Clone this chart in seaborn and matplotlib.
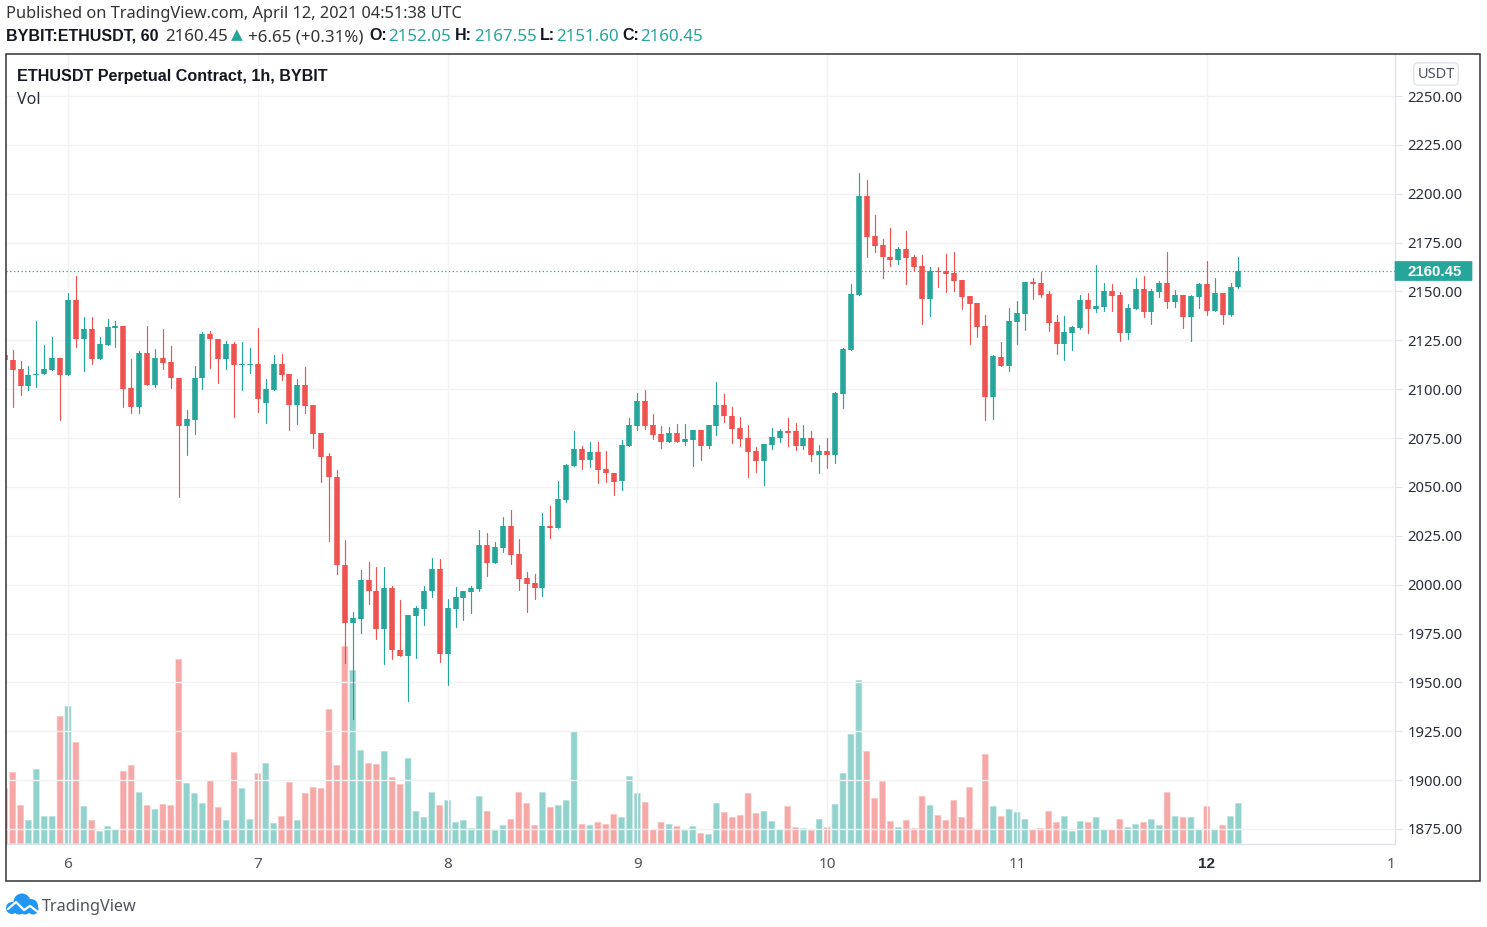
import numpy as np
import pandas as pd
import seaborn as sns
import matplotlib.pyplot as plt
from matplotlib.patches import Rectangle, FancyBboxPatch, Circle
from matplotlib.transforms import blended_transform_factory, ScaledTranslation

# hourly candles, April 5 16:00 -> April 12 04:00
opens = [2117.7,2115.0,2110.2,2101.8,2107.1,2107.6,2109.8,2116.1,2107.1,2145.8,
         2125.5,2130.6,2115.3,2122.8,2131.3,2132.3,2100.5,2091.1,2118.4,2102.3,
         2116.1,2113.9,2105.9,2081.4,2084.4,2105.6,2128.1,2125.9,2115.3,2123.1,
         2112.4,2112.4,2112.9,2093.1,2099.6,2112.9,2107.6,2092.1,2102.0,2091.9,
         2077.4,2066.0,2055.1,2010.1,1980.4,1982.5,2002.4,1997.0,1977.2,1998.2,
         1966.8,1963.7,1984.2,1987.4,1996.6,2007.9,1964.7,1987.4,1993.2,1996.0,
         1997.7,2020.3,2011.1,2018.6,2029.9,2015.9,2003.5,2000.9,1998.2,2029.9,
         2028.9,2043.3,2060.7,2069.3,2064.0,2067.7,2059.0,2057.3,2053.1,2071.0,
         2081.3,2094.1,2081.7,2076.9,2073.1,2077.4,2073.1,2074.2,2078.9,2070.9,
         2081.3,2091.9,2086.4,2080.1,2075.2,2068.2,2063.4,2071.4,2075.2,2078.4,
         2078.4,2070.9,2075.2,2066.1,2068.2,2066.1,2097.4,2120.0,2148.0,2198.8,
         2178.2,2173.7,2167.8,2165.9,2171.7,2167.4,2163.0,2145.9,2160.6,2160.4,
         2159.2,2156.0,2147.5,2144.2,2132.3,2095.8,2116.6,2111.8,2134.5,2138.4,
         2155.0,2154.5,2148.5,2134.5,2123.3,2128.5,2131.3,2145.8,2141.0,2142.0,
         2150.2,2148.0,2128.7,2141.0,2151.2,2139.3,2149.7,2154.5,2144.7,2148.0,
         2136.7,2147.0,2153.9,2140.0,2149.0,2137.8,2152.05]
closes = [2115.0,2109.8,2101.8,2107.4,2108.0,2110.2,2116.1,2107.1,2145.8,2125.5,
          2130.6,2115.3,2123.1,2131.7,2132.3,2100.1,2091.1,2118.4,2102.3,2116.1,
          2113.6,2105.6,2081.4,2084.8,2105.9,2128.1,2125.5,2115.3,2123.1,2112.6,
          2112.9,2112.9,2094.8,2099.9,2112.9,2107.3,2092.1,2102.0,2091.6,2076.9,
          2065.5,2054.9,2010.1,1980.4,1983.0,2002.4,1996.6,1977.2,1998.2,1966.5,
          1963.7,1984.5,1987.9,1997.0,2007.9,1964.7,1987.8,1993.7,1996.5,1998.2,
          2020.3,2011.1,2019.1,2029.9,2015.4,2002.9,2000.4,1998.2,2029.9,2028.9,
          2043.9,2061.3,2069.3,2064.0,2067.7,2058.5,2057.0,2052.6,2071.5,2081.7,
          2094.1,2081.3,2076.4,2073.1,2077.4,2073.1,2074.7,2078.9,2070.9,2081.7,
          2091.9,2086.1,2079.6,2074.7,2067.7,2063.4,2071.9,2075.7,2078.4,2077.7,
          2070.9,2075.2,2066.1,2068.2,2066.1,2097.9,2120.5,2148.5,2198.8,2177.8,
          2173.4,2167.4,2165.9,2171.7,2166.9,2162.7,2145.9,2160.4,2160.1,2158.7,
          2155.5,2147.0,2143.7,2131.8,2095.8,2116.8,2111.8,2135.0,2138.8,2155.0,
          2153.9,2148.0,2134.0,2123.3,2129.1,2131.8,2145.8,2141.0,2142.5,2150.2,
          2147.5,2128.7,2141.5,2151.2,2139.3,2150.2,2154.5,2144.7,2148.0,2136.7,
          2147.5,2153.9,2140.0,2149.0,2137.8,2152.2,2160.45]
highs = [2118.0,2120.1,2114.6,2111.9,2135.1,2122.6,2126.9,2116.1,2149.0,2157.9,
         2137.1,2136.8,2126.5,2136.1,2135.1,2132.3,2115.3,2119.4,2132.3,2120.4,
         2130.6,2122.1,2105.9,2089.4,2111.9,2129.1,2129.8,2125.9,2124.8,2124.2,
         2124.2,2120.9,2131.1,2105.4,2117.3,2117.8,2107.6,2105.4,2111.2,2091.9,
         2077.4,2067.2,2058.7,2022.9,1986.2,2007.5,2011.6,2008.9,2008.9,1999.4,
         1992.2,1984.5,1989.1,1999.4,2013.7,2013.2,1992.7,1998.7,1997.0,1999.4,
         2027.8,2026.3,2021.9,2034.8,2038.1,2023.4,2006.7,2005.2,2036.4,2040.3,
         2053.1,2061.8,2078.5,2070.8,2073.0,2073.0,2068.2,2057.3,2074.0,2085.5,
         2097.9,2099.6,2087.1,2081.2,2080.6,2082.2,2082.2,2078.9,2078.9,2081.7,
         2103.7,2097.5,2090.7,2085.9,2081.5,2070.2,2071.9,2080.1,2079.5,2085.4,
         2082.5,2081.7,2078.4,2071.4,2075.2,2098.4,2121.1,2154.0,2210.4,2206.8,
         2188.9,2177.1,2182.4,2172.7,2180.9,2168.5,2168.5,2162.3,2162.3,2169.1,
         2170.0,2156.0,2147.5,2144.2,2137.8,2117.3,2124.1,2141.5,2145.3,2155.0,
         2156.7,2159.9,2150.2,2137.8,2137.2,2132.3,2148.0,2149.0,2163.5,2154.5,
         2153.8,2149.7,2143.5,2156.7,2157.7,2151.2,2155.5,2170.0,2150.7,2148.0,
         2148.0,2154.5,2165.7,2156.7,2149.0,2154.5,2167.55]
lows = [2114.6,2091.1,2096.9,2099.6,2101.3,2107.6,2109.8,2084.3,2107.1,2121.8,
        2109.3,2112.9,2115.3,2122.8,2121.8,2091.1,2087.7,2087.7,2102.3,2101.3,
        2110.5,2100.6,2045.0,2066.5,2077.1,2100.1,2110.9,2103.4,2110.3,2086.0,
        2099.6,2108.1,2088.2,2082.9,2099.6,2104.7,2079.1,2082.2,2087.7,2069.8,
        2052.5,2022.5,2005.3,1959.8,1931.3,1975.1,1990.2,1972.3,1959.3,1962.0,
        1963.7,1940.5,1962.7,1979.2,1993.9,1960.5,1948.5,1978.2,1982.0,1985.7,
        1996.6,2004.5,2011.1,2016.9,2010.6,1997.1,1986.2,1992.7,1994.4,2024.1,
        2028.9,2042.5,2060.7,2059.0,2060.1,2052.2,2052.6,2046.1,2048.3,2071.0,
        2079.1,2079.6,2074.7,2069.7,2073.1,2073.1,2071.4,2060.9,2063.9,2069.9,
        2076.7,2083.4,2072.6,2070.9,2054.9,2057.5,2051.1,2069.4,2073.1,2070.9,
        2068.9,2069.4,2063.4,2056.9,2059.7,2062.4,2090.4,2120.0,2148.0,2167.4,
        2170.2,2157.0,2163.2,2164.2,2154.0,2160.6,2133.5,2137.6,2152.4,2149.7,
        2150.2,2141.0,2123.3,2126.5,2084.4,2084.9,2111.8,2109.3,2123.3,2130.2,
        2146.3,2147.0,2129.7,2117.8,2115.1,2120.0,2130.8,2128.7,2139.5,2140.0,
        2140.0,2124.8,2125.8,2141.0,2137.1,2133.5,2147.0,2141.5,2142.2,2131.3,
        2124.8,2141.5,2137.8,2140.0,2133.5,2137.2,2151.6]
# no volume scale is shown, so these are relative bar heights
volumes = [56,72,39,24,75,28,28,128,138,102,
           38,24,13,18,15,73,79,52,39,35,
           40,39,185,61,51,41,64,37,24,92,
           56,25,71,81,21,28,62,24,51,57,
           56,135,79,198,174,94,81,80,93,67,
           60,86,33,27,52,39,44,22,24,16,
           48,33,14,19,25,52,41,19,52,37,
           39,44,113,20,19,22,20,30,27,68,
           51,42,15,22,20,18,14,18,11,10,
           41,32,27,29,51,31,33,23,15,38,
           17,16,14,25,17,40,71,110,164,93,
           46,63,23,17,24,16,48,39,29,24,
           44,27,57,15,90,38,28,35,32,25,
           15,16,33,22,28,13,23,22,27,15,
           15,25,17,20,22,25,19,52,28,27,
           27,15,38,15,19,28,41]
day_labels = ['6', '7', '8', '9', '10', '11', '12']
day_bars = [8, 32, 56, 80, 104, 128, 152]
price_ticks = [1875, 1900, 1925, 1950, 1975, 2000, 2025, 2050, 2075, 2100,
               2125, 2150, 2175, 2200, 2225, 2250]
last_price = 2160.45

UP = '#26a69a'
DOWN = '#ef5350'
BOLD = ['Liberation Sans']
W, H = 1487, 927

sns.set_theme(style='white')
plt.rcParams['font.family'] = ['Noto Sans', 'DejaVu Sans']

df = pd.DataFrame({'bar': np.arange(len(opens)), 'open': opens, 'high': highs,
                   'low': lows, 'close': closes, 'volume': volumes})
df['dir'] = np.where(df['close'] >= df['open'], 'up', 'down')
palette = {'up': UP, 'down': DOWN}
wicks = df.melt(id_vars=['bar', 'dir'], value_vars=['low', 'high'], value_name='price')
bodies = df.melt(id_vars=['bar', 'dir'], value_vars=['open', 'close'], value_name='price')
wicks['candle'] = wicks['bar']
bodies['candle'] = bodies['bar']


def fx(px):
    return px / W


def fy(px):
    return 1 - px / H


fig = plt.figure(figsize=(W / 100, H / 100), dpi=100)
rect = [fx(6), fy(844), fx(1395) - fx(6), fy(54) - fy(844)]

# volume pane sits under the price pane
ax_vol = fig.add_axes(rect, zorder=1)
sns.barplot(data=df, x='bar', y='volume', hue='dir', palette=palette, native_scale=True,
            dodge=False, width=0.86, gap=0, saturation=1, alpha=0.5, legend=False, ax=ax_vol)
for bar in ax_vol.patches:
    bar.set_snap(False)
ax_vol.set_ylim(0, 790)
ax_vol.set_axis_off()

ax = fig.add_axes(rect, zorder=2)
ax.patch.set_visible(False)
sns.lineplot(data=wicks, x='bar', y='price', units='candle', hue='dir', palette=palette,
             estimator=None, sort=False, lw=0.85, legend=False, ax=ax)
sns.lineplot(data=bodies, x='bar', y='price', units='candle', hue='dir', palette=palette,
             estimator=None, sort=False, lw=4.0, solid_capstyle='butt', legend=False, ax=ax)
ax.axhline(last_price, color=UP, lw=0.9, ls=(0, (1, 2)), zorder=1)

for a in (ax, ax_vol):
    a.set_xlim(0.16, 175.8)
ax.set_ylim(1867.3, 2271.5)

ax.set_xlabel('')
ax.set_ylabel('')
ax.yaxis.tick_right()
ax.set_yticks(price_ticks)
ax.set_yticklabels([f'{p:.2f}' for p in price_ticks], fontsize=10.7, color='#2a2e39')
# labels sit a pixel low otherwise
nudge = ScaledTranslation(0, 1 / 100, fig.dpi_scale_trans)
for lab in ax.get_yticklabels():
    lab.set_transform(lab.get_transform() + nudge)
ax.set_xticks(day_bars)
ax.set_xticklabels(day_labels, fontsize=11, color='#50535e')
ax.get_xticklabels()[-1].set_family(BOLD)
ax.get_xticklabels()[-1].set_fontweight('bold')
ax.get_xticklabels()[-1].set_color('#2a2e39')
ax.tick_params(axis='y', length=5, width=0.8, color='#e0e3eb', pad=4)
ax.tick_params(axis='x', length=4, width=0.8, color='#e0e3eb', pad=5)
ax.grid(True, color='#f1f2f4', lw=1)
ax.set_axisbelow(True)
for side in ('top', 'left'):
    ax.spines[side].set_visible(False)
for side in ('right', 'bottom'):
    ax.spines[side].set_color('#e0e3eb')
    ax.spines[side].set_linewidth(1)

# clipped label of the next day at the far right of the time axis
fig.text(fx(1391), fy(864), '1', fontsize=11, color='#50535e', ha='center', va='center')

# last price tag on the price axis
trans = blended_transform_factory(ax.transAxes, ax.transData)
tag_w = 77 / 1389
ax.add_patch(FancyBboxPatch((1.0, last_price - 4.9), tag_w, 9.8, transform=trans, clip_on=False,
                            boxstyle='round,pad=0,rounding_size=0.001', fc=UP, ec=UP, lw=0.5, zorder=5))
fig.text(fx(1408), fy(272), f'{last_price:.2f}', fontsize=10.8, fontweight='bold', family=BOLD,
         color='white', ha='left', va='center', zorder=10)

# outer frame
fig.add_artist(Rectangle((fx(5.5), fy(881)), fx(1479.5) - fx(5.5), fy(53.5) - fy(881),
                         transform=fig.transFigure, fill=False, ec='#333333', lw=1.1, zorder=20))

# USDT badge
fig.text(fx(1436), fy(74), 'USDT', fontsize=10.5, color='#50535e', ha='center', va='center', zorder=10,
         bbox=dict(boxstyle='round,pad=0.25,rounding_size=0.3', fc='white', ec='#e0e3eb', lw=1))

# pane titles
fig.text(fx(17), fy(77), 'ETHUSDT Perpetual Contract, 1h, BYBIT', fontsize=11.6, fontweight='bold',
         family=BOLD, color='#131722', ha='left', va='center', zorder=10)
fig.text(fx(17), fy(100), 'Vol', fontsize=11.5, color='#2a2e39', ha='left', va='center', zorder=10)

# header lines
fig.text(fx(6), fy(14), 'Published on TradingView.com, April 12, 2021 04:51:38 UTC', fontsize=11.8,
         color='#333333', ha='left', va='center')
header = [(6, 'BYBIT:ETHUSDT, 60', True, '#131722'),
          (165, '2160.45', False, '#333333'),
          (248, '+6.65 (+0.31%)', False, '#333333'),
          (369, 'O:', True, '#131722'), (388, '2152.05', False, UP),
          (455, 'H:', True, '#131722'), (474, '2167.55', False, UP),
          (540, 'L:', True, '#131722'), (556, '2151.60', False, UP),
          (622, 'C:', True, '#131722'), (640, '2160.45', False, UP)]
for x0, txt, is_bold, col in header:
    if is_bold:
        fig.text(fx(x0), fy(36), txt, fontsize=11.5, fontweight='bold', family=BOLD, color=col,
                 ha='left', va='center')
    else:
        fig.text(fx(x0), fy(37), txt, fontsize=12.2, color=col, ha='left', va='center')
fig.text(fx(237), fy(35), '▲', fontsize=11, color=UP, ha='center', va='center',
         family=['DejaVu Sans'])

# logo
logo = fig.add_axes([fx(5), fy(917), fx(35), 25 / H])
logo.set_xlim(0, 35)
logo.set_ylim(25, 0)
logo.set_axis_off()
for cx, cy, r in [(7, 16, 6), (17, 10, 8.5), (26, 14, 7), (28, 17, 5.5), (14, 17, 5.5), (20, 17, 5.5)]:
    logo.add_patch(Circle((cx, cy), r, fc='#2196f3', ec='none'))
logo.plot([3, 11, 19, 25, 33], [17, 10, 18, 14, 20], color='white', lw=1.6)
fig.text(fx(42), fy(907), 'TradingView', fontsize=11.7, color='#50535e', ha='left', va='center')

fig.savefig('out.png', dpi=100, facecolor='white')
